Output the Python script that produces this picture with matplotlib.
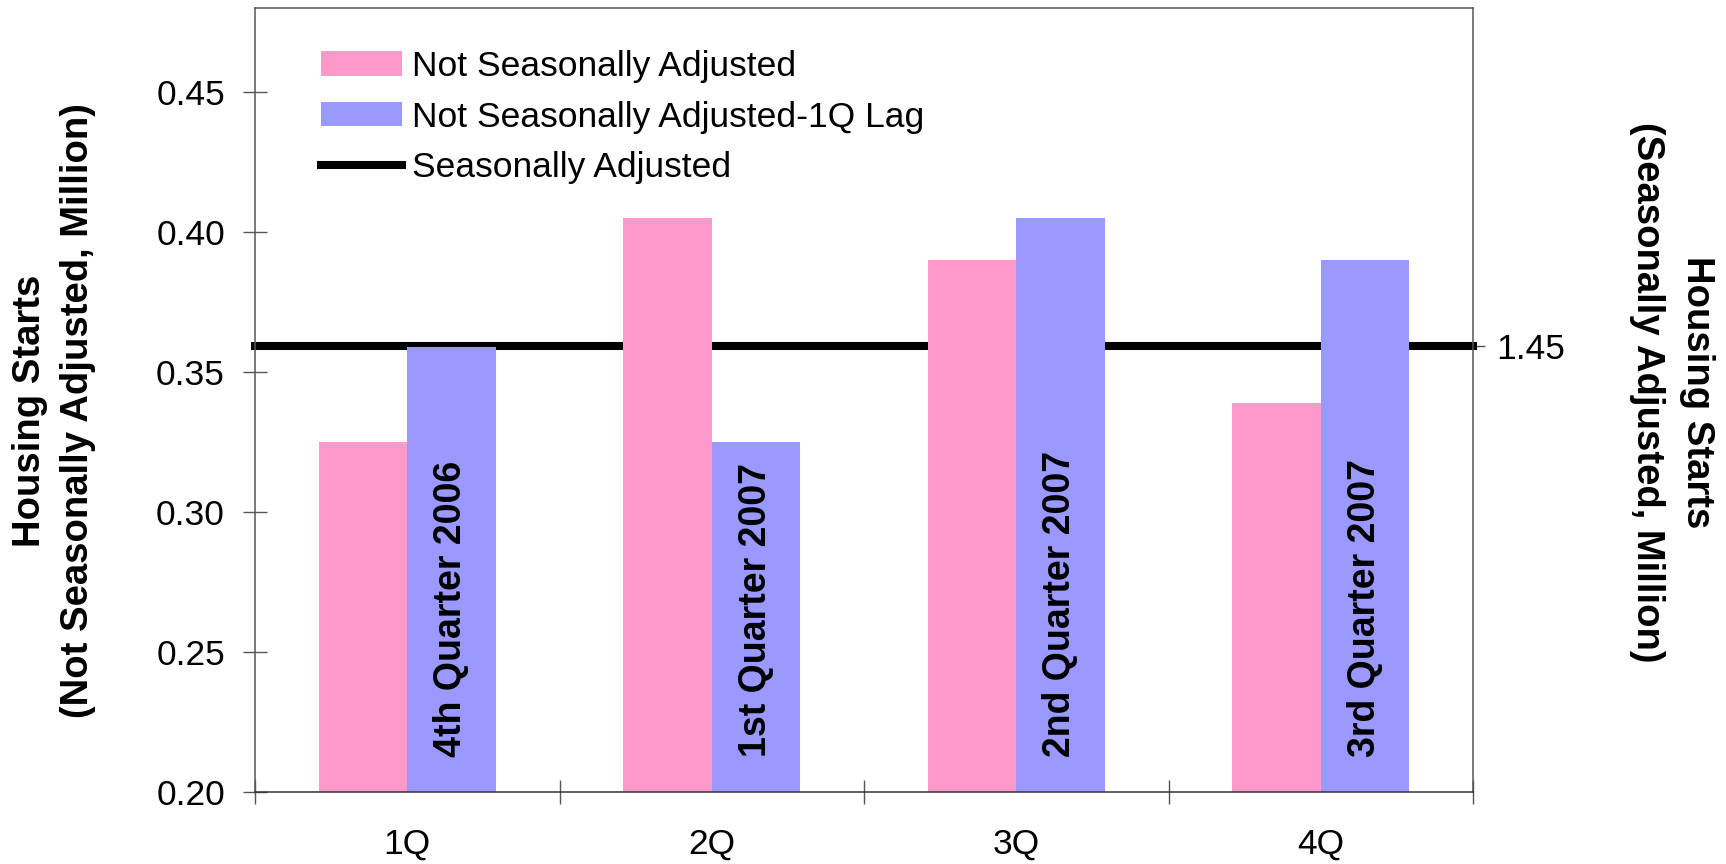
import matplotlib
matplotlib.use("Agg")
import matplotlib.pyplot as plt
from matplotlib.patches import Patch
from matplotlib.lines import Line2D
import numpy as np

plt.rcParams['font.family'] = ['Liberation Sans', 'DejaVu Sans']

# Data
quarters = ["1Q", "2Q", "3Q", "4Q"]
nsa = [0.325, 0.405, 0.390, 0.339]            # Not seasonally adjusted (million)
nsa_lag = [0.359, 0.325, 0.405, 0.390]        # Not seasonally adjusted, 1Q lag (million)
lag_labels = ["4th Quarter 2006", "1st Quarter 2007",
              "2nd Quarter 2007", "3rd Quarter 2007"]
sa_value = 1.45                               # Seasonally adjusted (million, annual rate)
left_ticks = [0.20, 0.25, 0.30, 0.35, 0.40, 0.45]

PINK = "#FF99CC"
BLUE = "#9999FF"
SPINE = "#555555"
FS = 25.5
FS_BOLD = 27.5

fig = plt.figure(figsize=(17.26, 8.64), dpi=100)
ax = fig.add_axes([255 / 1726, 1 - 792 / 864, (1473 - 255) / 1726, (792 - 8) / 864])

x = np.arange(len(quarters))
w = 0.29
ax.bar(x - w / 2, nsa, width=w, color=PINK, linewidth=0, zorder=2)
ax.bar(x + w / 2, nsa_lag, width=w, color=BLUE, linewidth=0, zorder=2)

for xi, lab in zip(x, lag_labels):
    ax.text(xi + w / 2, 0.2125, lab, rotation=90, ha="center", va="bottom",
            fontsize=27, fontweight="bold", color="black", zorder=4)

ax.set_xlim(-0.5, len(quarters) - 0.5)
ax.set_ylim(0.20, 0.48)
ax.set_yticks(left_ticks)
ax.set_yticklabels([f"{t:.2f}" for t in left_ticks])
ax.tick_params(axis="y", direction="inout", length=17.3, width=1.0,
               color=SPINE, labelsize=FS, pad=13)

ax.set_xticks(x)
ax.set_xticklabels(quarters)
ax.set_xticks(np.arange(len(quarters) + 1) - 0.5, minor=True)
ax.tick_params(axis="x", which="major", length=0, labelsize=FS, pad=26)
ax.tick_params(axis="x", which="minor", direction="inout", length=17.3,
               width=1.0, color=SPINE)

for s in ax.spines.values():
    s.set_color(SPINE)
    s.set_linewidth(1.1)
ax.spines["bottom"].set_color("#333333")

# Seasonally adjusted level on the right-hand scale
ax2 = ax.twinx()
ax2.set_ylim(0.0, 2.547)
ax2.axhline(sa_value, color="black", linewidth=5.8, zorder=5, clip_on=False)
ax2.set_yticks([sa_value])
ax2.set_yticklabels([f"{sa_value:.2f}"])
ax2.tick_params(axis="y", direction="out", length=8.6, width=1.0,
                color=SPINE, labelsize=FS, pad=8)
for s in ax2.spines.values():
    s.set_visible(False)
ax.set_zorder(ax2.get_zorder() + 1)
ax.patch.set_visible(False)
ax2.set_zorder(0)

# Axis titles
fig.text(30 / 1726, 1 - 411 / 864, "Housing Starts", rotation=90,
         ha="center", va="center", fontsize=FS_BOLD, fontweight="bold")
fig.text(78 / 1726, 1 - 411 / 864, "(Not Seasonally Adjusted, Million)",
         rotation=90, ha="center", va="center", fontsize=FS_BOLD, fontweight="bold")
fig.text(1697 / 1726, 1 - 392 / 864, "Housing Starts", rotation=270,
         ha="center", va="center", fontsize=FS_BOLD, fontweight="bold")
fig.text(1647 / 1726, 1 - 392 / 864, "(Seasonally Adjusted, Million)",
         rotation=270, ha="center", va="center", fontsize=FS_BOLD, fontweight="bold")

handles = [Patch(facecolor=PINK, edgecolor="none"),
           Patch(facecolor=BLUE, edgecolor="none"),
           Line2D([], [], color="black", linewidth=5.8)]
labels = ["Not Seasonally Adjusted", "Not Seasonally Adjusted-1Q Lag",
          "Seasonally Adjusted"]
fig.legend(handles, labels, loc="upper left",
           bbox_to_anchor=(321 / 1726, 1 - 50 / 864),
           frameon=False, fontsize=FS, handlelength=2.3, handleheight=0.68,
           handletextpad=0.27, labelspacing=0.5, borderpad=0, borderaxespad=0)

fig.savefig("out.png", dpi=100)
